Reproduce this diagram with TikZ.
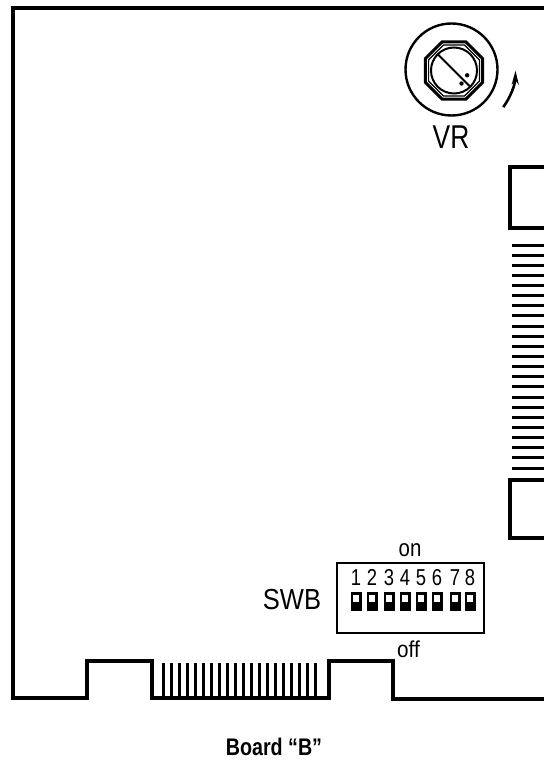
\documentclass[tikz,border=0pt]{standalone}
\usepackage{fontspec}
\setmainfont{Liberation Sans}
\usetikzlibrary{shapes.geometric,arrows.meta}

\newcommand{\narrowtext}[2]{\scalebox{#1}[1]{#2}}

\begin{document}
\begin{tikzpicture}[x=1pt,y=-1pt,every text node part/.style={align=center},
	edge/.style={line width=3.6pt},
	finger/.style={line width=3pt},
	lbl/.style={inner sep=0pt}]
	\useasboundingbox (0,0) rectangle (543,762);
				\begin{scope}
	% board outline with the edge connector
	\draw[edge] (546,8) -- (13,8) -- (13,698) -- (87,698) -- (87,661) -- (152,661) -- (152,698) -- (329,698) -- (329,661) -- (393,661) -- (393,699) -- (546,699);
	\foreach \i in {0,...,19}
		\draw[finger] ({163+8*\i},663) -- ++(0,35);
	% side connector
	\draw[edge] (546,167) -- (510,167) -- (510,228) -- (546,228);
	\draw[edge] (546,480) -- (510,480) -- (510,538) -- (546,538);
	\foreach \i in {0,...,22}
		\draw[finger] (512,{245+10.14*\i}) -- (546,{245+10.14*\i});
				\end{scope}
				\begin{scope}
	% VR
	\coordinate (vr) at (451.5,69.5);
	\draw[line width=2.4pt] (vr) circle[radius=46pt];
	\node[regular polygon, regular polygon sides=8, draw, line width=3pt, minimum size=62pt, inner sep=0pt] (knob) at (454,70.5) {};
	\node[regular polygon, regular polygon sides=8, draw, line width=1.2pt, minimum size=55pt, inner sep=0pt] (knobin) at (knob.center) {};
	\draw[line width=2pt] (knob.center) circle[radius=23pt];
	\draw[line width=2pt] ([shift={(135:23pt)}]knob.center) -- ([shift={(-45:23pt)}]knob.center);
	\fill ([shift={(-20:14pt)}]knob.center) circle[radius=2.2pt];
	\fill ([shift={(-60:15pt)}]knob.center) circle[radius=2.2pt];
	\draw[line width=2.6pt, -{Stealth[length=14pt,width=7pt]}] ([shift={(-36:64pt)}]vr) arc[start angle=-36, end angle=-1, radius=64pt];
	\node[lbl] (vrlbl) at (451,137) {\fontsize{33}{35}\selectfont\narrowtext{0.8}{VR}};
				\end{scope}
				\begin{scope}
	% SWB
	\node[draw, line width=2.6pt, minimum width=147pt, minimum height=70pt, inner sep=0pt] (swb) at (410.5,598) {};
	\node[lbl, anchor=south] (on) at (410,557) {\fontsize{24}{26}\selectfont\narrowtext{0.85}{on}};
	\node[lbl, anchor=south west] (off) at (397,658) {\fontsize{23}{25}\selectfont\narrowtext{0.9}{off}};
	\node[lbl] (swblbl) at (292,600) {\fontsize{29}{31}\selectfont\narrowtext{0.88}{SWB}};
	\foreach \n/\x in {1/356,2/372,3/389,4/405,5/421,6/437,7/455,8/470} {
		\node[lbl] (d\n) at (\x,577.5) {\fontsize{23}{24}\selectfont\narrowtext{0.8}{\n}};
		\fill (\x-5.5,592) rectangle (\x+5.5,611);
		\fill[white] (\x-3,594.5) rectangle (\x+3,601.5);
	}
				\end{scope}

	\node[lbl] (title) at (274,746.5) {\fontsize{24}{26}\selectfont\narrowtext{0.82}{\textbf{Board “B”}}};

\end{tikzpicture}
\end{document}
